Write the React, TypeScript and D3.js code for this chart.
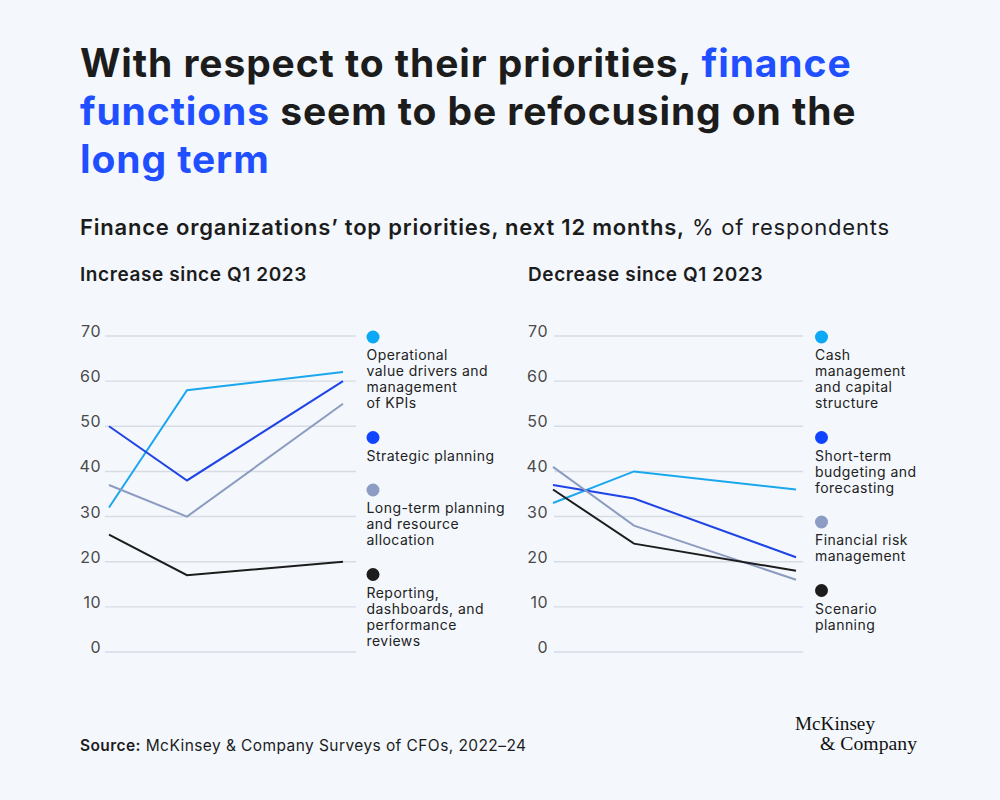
import React from "react";
import * as d3 from "d3";

const periodIndex = [0, 2, 6];
const yTicks = [0, 10, 20, 30, 40, 50, 60, 70];

const leftNames = [
  ["Operational", "value drivers and", "management", "of KPIs"],
  ["Strategic planning"],
  ["Long-term planning", "and resource", "allocation"],
  ["Reporting,", "dashboards, and", "performance", "reviews"],
];
const operationalValues = [32, 58, 62];
const strategicValues = [50, 38, 60];
const longTermValues = [37, 30, 55];
const reportingValues = [26, 17, 20];

const rightNames = [
  ["Cash", "management", "and capital", "structure"],
  ["Short-term", "budgeting and", "forecasting"],
  ["Financial risk", "management"],
  ["Scenario", "planning"],
];
const cashValues = [33, 40, 36];
const shortTermValues = [37, 34, 21];
const riskValues = [41, 28, 16];
const scenarioValues = [36, 24, 18];

const lineColors = ["#1aa7ee", "#1f44e6", "#8c9cc0", "#1c1c1c"];
const dotColors = ["#0aa8f5", "#0f45ff", "#8c9cc3", "#1c1c1c"];

const FONT = "Inter, 'Noto Sans', sans-serif";
const BG = "#f4f8fd";

type PanelProps = {
  series: number[][];
  names: string[][];
  gridX: [number, number];
  plotX: [number, number];
  tickRight: number;
  legendX: number;
};

function Panel({ series, names, gridX, plotX, tickRight, legendX }: PanelProps) {
  const y = d3.scaleLinear().domain([0, 70]).range([652, 336]);
  const x = d3.scaleLinear().domain([0, 6]).range(plotX);
  const line = d3
    .line<number>()
    .x((_, i) => x(periodIndex[i]))
    .y((v) => y(v));

  const legendItems: { cy: number; lines: string[] }[] = [];
  let cy = 337;
  names.forEach((lines) => {
    legendItems.push({ cy, lines });
    cy = cy + 18 + (lines.length - 1) * 16 + 34.5;
  });

  return (
    <g>
      {yTicks.map((t) => (
        <g key={t}>
          <line x1={gridX[0]} x2={gridX[1]} y1={y(t)} y2={y(t)} stroke="#d6dbe4" strokeWidth={1.4} />
          <text x={tickRight} y={y(t) + 1} textAnchor="end" fontFamily={FONT} fontSize={16} letterSpacing={0.5} fill="#4a4a4a">
            {t}
          </text>
        </g>
      ))}
      {series.map((s, i) => (
        <path key={i} d={line(s) || ""} fill="none" stroke={lineColors[i]} strokeWidth={2} />
      ))}
      {legendItems.map((it, i) => (
        <g key={i}>
          <circle cx={legendX + 6.5} cy={it.cy} r={6.5} fill={dotColors[i]} />
          {it.lines.map((l, j) => (
            <text key={j} x={legendX} y={it.cy + 18 + j * 16 + 5} fontFamily={FONT} fontSize={14} letterSpacing={0.45} fill="#222">
              {l}
            </text>
          ))}
        </g>
      ))}
    </g>
  );
}

export default function App() {
  return (
    <svg width={1000} height={800} style={{ position: "absolute", left: 0, top: 0 }}>
      <rect width={1000} height={800} fill={BG} />
      <g fontFamily={FONT} fontWeight={700} fontSize={39} letterSpacing={0.9} fill="#1c1c1c">
        <text x={80} y={77}>
          With respect to their priorities, <tspan fill="#1f4fff">finance</tspan>
        </text>
        <text x={80} y={125}>
          <tspan fill="#1f4fff">functions</tspan> seem to be refocusing on the
        </text>
        <text x={80} y={173} fill="#1f4fff">
          long term
        </text>
      </g>
      <text x={80} y={235} fontFamily={FONT} fontSize={22} letterSpacing={0.8} fill="#1c1c1c">
        <tspan fontWeight={600}>Finance organizations’ top priorities, next 12 months,</tspan> % of respondents
      </text>
      <text x={80} y={281} fontFamily={FONT} fontSize={19} letterSpacing={0.6} fontWeight={600} fill="#1c1c1c">
        Increase since Q1 2023
      </text>
      <text x={528} y={281} fontFamily={FONT} fontSize={19} letterSpacing={0.6} fontWeight={600} fill="#1c1c1c">
        Decrease since Q1 2023
      </text>
      <Panel
        series={[operationalValues, strategicValues, longTermValues, reportingValues]}
        names={leftNames}
        gridX={[105, 356]}
        plotX={[109, 343]}
        tickRight={101}
        legendX={366.5}
      />
      <Panel
        series={[cashValues, shortTermValues, riskValues, scenarioValues]}
        names={rightNames}
        gridX={[554, 803]}
        plotX={[553, 796]}
        tickRight={548}
        legendX={815}
      />
      <text x={80} y={751} fontFamily={FONT} fontSize={15.5} letterSpacing={0.42} fill="#1c1c1c">
        <tspan fontWeight={600}>Source:</tspan> McKinsey &amp; Company Surveys of CFOs, 2022–24
      </text>
      <text x={795} y={730} fontFamily="'Liberation Serif', serif" fontSize={19} fill="#111" textLength={80} lengthAdjust="spacingAndGlyphs">
        McKinsey
      </text>
      <text x={820} y={750} fontFamily="'Liberation Serif', serif" fontSize={19} fill="#111" textLength={97} lengthAdjust="spacingAndGlyphs">
        &amp; Company
      </text>
    </svg>
  );
}
